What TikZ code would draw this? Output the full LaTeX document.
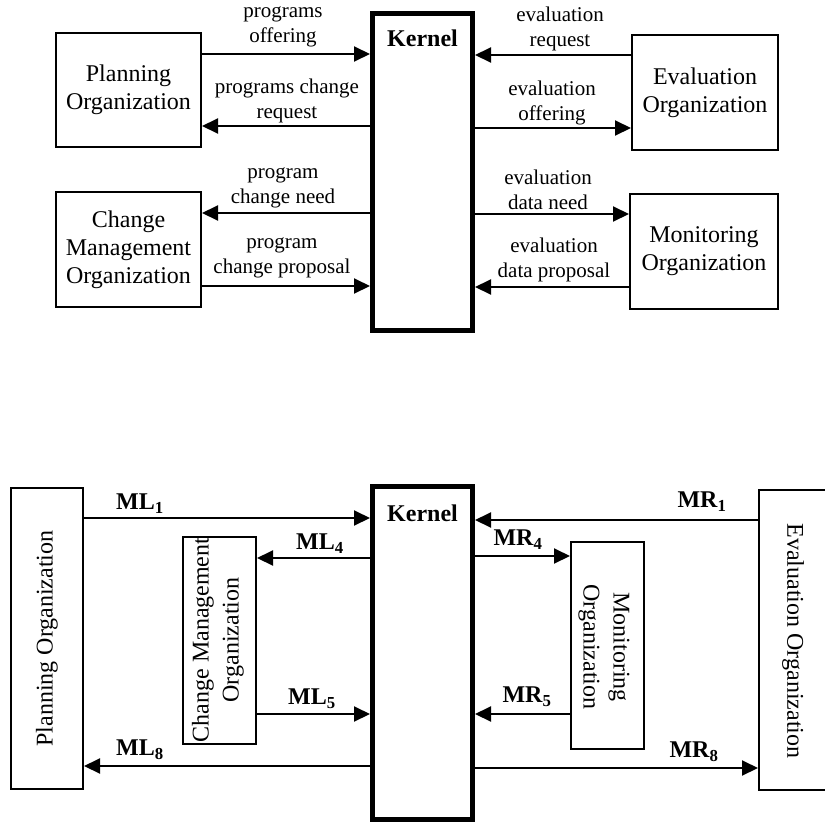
\documentclass[tikz,border=0pt]{standalone}
\usepackage{fontspec}
\setmainfont{Liberation Serif}
\usetikzlibrary{arrows.meta}
\tikzset{
  orgbox/.style={draw, line width=2pt, inner sep=0pt, align=center,
                 font=\fontsize{24}{28}\selectfont},
  kernbox/.style={draw, line width=5pt, inner sep=0pt},
  flow/.style={line width=2pt, -{Triangle[length=16pt,width=15pt]}},
  msg/.style={align=center, inner sep=0pt, font=\fontsize{21}{25.5}\selectfont},
  vtext/.style={align=center, inner sep=0pt, font=\fontsize{24}{30}\selectfont},
  tag/.style={inner sep=0pt, font=\fontsize{24}{28}\selectfont\bfseries},
}
\begin{document}
\begin{tikzpicture}[x=1pt, y=-1pt]
\useasboundingbox (0,0) rectangle (825,822);

% ---------- upper diagram: message exchange ----------
\node[kernbox, minimum width=100pt, minimum height=317pt] (k1) at (422.5,171.5) {};
\node[tag] (k1t) at (422.5,38) {Kernel};

\node[orgbox, minimum width=145pt, minimum height=114pt] (plan1) at (128.5,90)
  {Planning\\Organization};
\node[orgbox, minimum width=145pt, minimum height=115pt] (chg1) at (128.5,249.5)
  {Change\\Management\\Organization};
\node[orgbox, minimum width=146pt, minimum height=115pt] (eval1) at (705,92.5)
  {Evaluation\\Organization};
\node[orgbox, minimum width=148pt, minimum height=115pt] (mon1) at (704,251.5)
  {Monitoring\\Organization};

\draw[flow] (plan1.east |- 0,54) -- (k1.west |- 0,54);
\draw[flow] (k1.west |- 0,126) -- (plan1.east |- 0,126);
\draw[flow] (k1.west |- 0,213) -- (chg1.east |- 0,213);
\draw[flow] (chg1.east |- 0,286) -- (k1.west |- 0,286);

\draw[flow] (eval1.west |- 0,55) -- (k1.east |- 0,55);
\draw[flow] (k1.east |- 0,128) -- (eval1.west |- 0,128);
\draw[flow] (k1.east |- 0,214) -- (mon1.west |- 0,214);
\draw[flow] (mon1.west |- 0,287) -- (k1.east |- 0,287);

\node[msg] (m1) at (283,27) {programs\\offering};
\node[msg] (m2) at (287,101) {programs change\\request};
\node[msg] (m3) at (283,188) {program\\change need};
\node[msg] (m4) at (282,258) {program\\change proposal};
\node[msg] (m5) at (560,29) {evaluation\\request};
\node[msg] (m6) at (552,103) {evaluation\\offering};
\node[msg] (m7) at (548,190) {evaluation\\data need};
\node[msg] (m8) at (554,260) {evaluation\\data proposal};

% ---------- lower diagram: message labels ----------
\node[kernbox, minimum width=100pt, minimum height=333pt] (k2) at (422.5,652.5) {};
\node[tag] (k2t) at (422.5,513) {Kernel};

\node[orgbox, minimum width=72pt, minimum height=301pt] (plan2) at (47,638.5) {};
\node[vtext, rotate=90] (plan2t) at (plan2.center) {Planning Organization};
\node[orgbox, minimum width=73pt, minimum height=207pt] (chg2) at (219.5,640.5) {};
\node[vtext, rotate=90] (chg2t) at (218,640) {Change Management\\Organization};
\node[orgbox, minimum width=73pt, minimum height=207pt] (mon2) at (607.5,645.5) {};
\node[vtext, rotate=-90] (mon2t) at (604,647) {Monitoring\\Organization};
\node[orgbox, minimum width=70pt, minimum height=300pt] (eval2) at (794,640) {};
\node[vtext, rotate=-90] (eval2t) at (793,641) {Evaluation Organization};

\draw[flow] (plan2.east |- 0,518) -- (k2.west |- 0,518);
\draw[flow] (k2.west |- 0,558) -- (chg2.east |- 0,558);
\draw[flow] (chg2.east |- 0,714) -- (k2.west |- 0,714);
\draw[flow] (k2.west |- 0,766) -- (plan2.east |- 0,766);

\draw[flow] (eval2.west |- 0,520) -- (k2.east |- 0,520);
\draw[flow] (k2.east |- 0,556) -- (mon2.west |- 0,556);
\draw[flow] (mon2.west |- 0,714) -- (k2.east |- 0,714);
\draw[flow] (k2.east |- 0,768) -- (eval2.west |- 0,768);

\node[tag] (ml1) at (140,504) {ML\textsubscript{1}};
\node[tag] (ml4) at (320,544) {ML\textsubscript{4}};
\node[tag] (ml5) at (312,699) {ML\textsubscript{5}};
\node[tag] (ml8) at (140,750) {ML\textsubscript{8}};
\node[tag] (mr1) at (702,502) {MR\textsubscript{1}};
\node[tag] (mr4) at (518,540) {MR\textsubscript{4}};
\node[tag] (mr5) at (527,697) {MR\textsubscript{5}};
\node[tag] (mr8) at (694,752) {MR\textsubscript{8}};
\end{tikzpicture}
\end{document}
